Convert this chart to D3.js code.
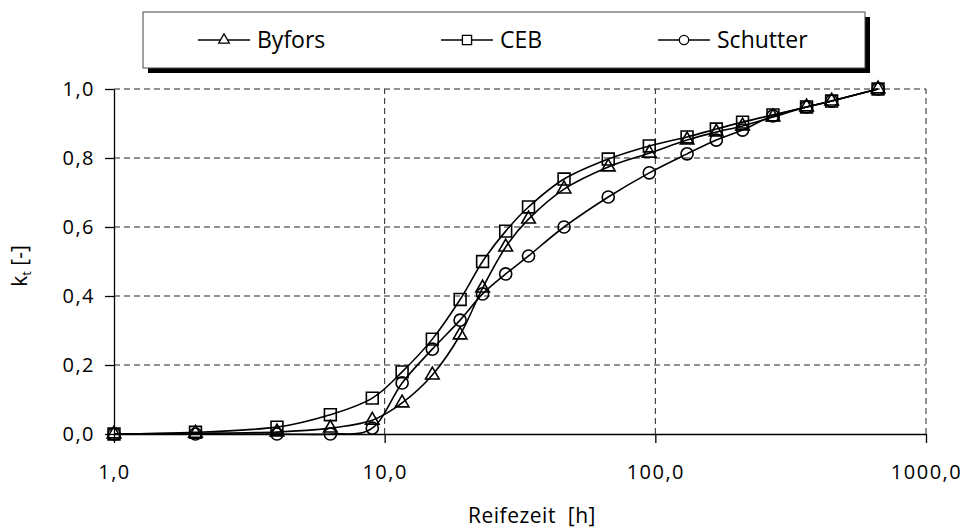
<!DOCTYPE html>
<html lang="de">
<head>
    <meta charset="utf-8">
    <script src="https://d3js.org/d3.v7.min.js"></script>
    <title>Reifezeit k_t</title>
    <style>
        body { margin: 0; background: #fff; }
        svg text { font-family: "Open Sans", "Noto Sans", sans-serif; fill: #000; }
        .grid line { stroke: #222; stroke-width: 1; stroke-dasharray: 6,4; }
        .axis path, .axis line { stroke: #000; stroke-width: 1.3; }
        .axis text { font-size: 20px; letter-spacing: 1.5px; }
    </style>
</head>
<body>
<svg id="chart" width="974" height="531"></svg>

<script>

    // Reifezeit in hours (log axis)
    let hours    = [1, 2, 4, 6.3, 9, 11.6, 15, 19, 23, 28, 34, 46, 67, 95, 131, 168, 210, 272, 362, 448, 665];

    // k_t values per model
    let byfors   = [0, 0.002, 0.006, 0.017, 0.04, 0.09, 0.171, 0.287, 0.423, 0.542, 0.623, 0.71, 0.774, 0.814, 0.852, 0.875, 0.893, 0.919, 0.948, 0.965, 1.0];
    let ceb      = [0, 0.005, 0.02, 0.056, 0.104, 0.18, 0.275, 0.39, 0.50, 0.588, 0.658, 0.739, 0.797, 0.835, 0.861, 0.884, 0.904, 0.925, 0.948, 0.965, 1.0];
    let schutter = [0, 0, 0, 0, 0.017, 0.148, 0.246, 0.33, 0.406, 0.464, 0.516, 0.6, 0.687, 0.757, 0.812, 0.852, 0.881, 0.922, 0.948, 0.965, 1.0];

    let seriesNames = ["Byfors", "CEB", "Schutter"];
    let xTicks = [1, 10, 100, 1000];
    let yTicks = [0, 0.2, 0.4, 0.6, 0.8, 1.0];

    var svg = d3.select("#chart");

    var x = d3.scaleLog().domain([1, 1000]).range([114, 926]);
    var y = d3.scaleLinear().domain([0, 1]).range([434, 89]);

    var de = d3.formatLocale({decimal: ",", thousands: ".", grouping: [3], currency: ["", " €"]});
    var fmt = de.format(".1f");

    // gridlines
    var grid = svg.append("g").attr("class", "grid");
    grid.selectAll(".hg")
        .data(yTicks.filter(d => d > 0))
        .enter().append("line")
        .attr("x1", x(1)).attr("x2", x(1000))
        .attr("y1", d => y(d)).attr("y2", d => y(d));
    grid.selectAll(".vg")
        .data(xTicks.filter(d => d > 1))
        .enter().append("line")
        .attr("x1", d => x(d)).attr("x2", d => x(d))
        .attr("y1", y(0)).attr("y2", y(1));

    // axes
    svg.append("g")
        .attr("class", "axis")
        .attr("transform", "translate(0," + y(0) + ")")
        .call(d3.axisBottom(x).tickValues(xTicks).tickFormat(fmt).tickSize(9).tickSizeOuter(0).tickPadding(22));

    svg.append("g")
        .attr("class", "axis")
        .attr("transform", "translate(" + x(1) + ",0)")
        .call(d3.axisLeft(y).tickValues(yTicks).tickFormat(fmt).tickSize(9).tickSizeOuter(0).tickPadding(10));

    svg.selectAll(".axis .domain").attr("stroke-width", 1.5);

    // axis titles
    svg.append("text")
        .attr("x", 532)
        .attr("y", 523)
        .attr("text-anchor", "middle")
        .attr("xml:space", "preserve")
        .style("font-size", "21px")
        .style("letter-spacing", "0.5px")
        .text("Reifezeit  [h]");

    var yt = svg.append("text")
        .attr("transform", "translate(27,266) rotate(-90)")
        .attr("text-anchor", "middle")
        .style("font-size", "21px");
    yt.append("tspan").text("k");
    yt.append("tspan").attr("font-size", "13px").attr("dy", 4).text("t");
    yt.append("tspan").attr("dy", -4).text(" [-]");

    // series
    var series = [
        {name: seriesNames[0], values: byfors, shape: d3.symbolTriangle, size: 80},
        {name: seriesNames[1], values: ceb, shape: d3.symbolSquare, size: 140},
        {name: seriesNames[2], values: schutter, shape: d3.symbolCircle, size: 115}
    ];

    var line = d3.line()
        .x((d, i) => x(hours[i]))
        .y(d => y(d))
        .curve(d3.curveCardinal.tension(0));

    series.forEach(s => {
        svg.append("path")
            .attr("d", line(s.values))
            .attr("fill", "none")
            .attr("stroke", "#000")
            .attr("stroke-width", 1.6);

        svg.selectAll(null)
            .data(s.values)
            .enter().append("path")
            .attr("d", d3.symbol().type(s.shape).size(s.size))
            .attr("transform", (d, i) => "translate(" + x(hours[i]) + "," + y(d) + ")")
            .attr("fill", "none")
            .attr("stroke", "#000")
            .attr("stroke-width", 1.6);
    });

    // legend
    var legend = svg.append("g");
    legend.append("rect")
        .attr("x", 148).attr("y", 17).attr("width", 722).attr("height", 56)
        .attr("fill", "#000");
    legend.append("rect")
        .attr("x", 143).attr("y", 12).attr("width", 722).attr("height", 56)
        .attr("fill", "#fff").attr("stroke", "#444").attr("stroke-width", 1);

    var legendX = [198, 441, 658];
    series.forEach((s, i) => {
        var g = legend.append("g").attr("transform", "translate(" + legendX[i] + ",40)");
        g.append("line").attr("x1", 0).attr("x2", 52).attr("y1", 0).attr("y2", 0)
            .attr("stroke", "#000").attr("stroke-width", 1.3);
        g.append("path")
            .attr("d", d3.symbol().type(s.shape).size(s.size * 0.6))
            .attr("transform", "translate(26,0)")
            .attr("fill", "#fff").attr("stroke", "#000").attr("stroke-width", 1.3);
        g.append("text")
            .attr("x", 59).attr("y", 8)
            .style("font-size", "23px")
            .text(s.name);
    });

</script>
</body>
</html>
